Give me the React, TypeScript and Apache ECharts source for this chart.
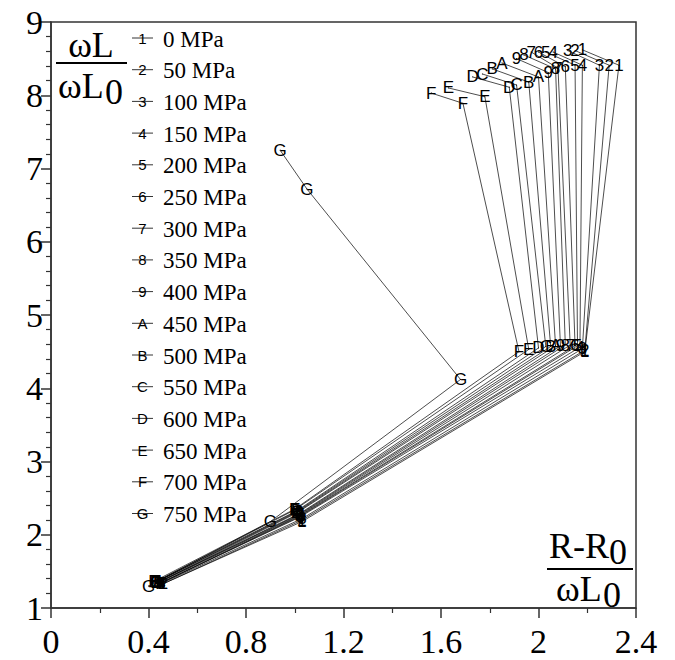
import React, { useEffect, useRef } from "react";
import * as echarts from "echarts";

const seriesNames = ["0 MPa", "50 MPa", "100 MPa", "150 MPa", "200 MPa", "250 MPa", "300 MPa", "350 MPa", "400 MPa", "450 MPa", "500 MPa", "550 MPa", "600 MPa", "650 MPa", "700 MPa", "750 MPa"];
const markChars = ["1", "2", "3", "4", "5", "6", "7", "8", "9", "A", "B", "C", "D", "E", "F", "G"];

// five measured points per pressure (x = (R-R0)/ωL0, y = ωL/ωL0)
const x1 = [0.46, 0.46, 0.45, 0.45, 0.45, 0.45, 0.44, 0.44, 0.44, 0.44, 0.43, 0.43, 0.43, 0.43, 0.42, 0.40];
const y1 = [1.33, 1.33, 1.33, 1.34, 1.34, 1.34, 1.34, 1.35, 1.35, 1.35, 1.35, 1.35, 1.36, 1.36, 1.36, 1.30];
const x2 = [1.03, 1.03, 1.03, 1.02, 1.02, 1.02, 1.02, 1.02, 1.02, 1.01, 1.01, 1.01, 1.01, 1.00, 1.00, 0.90];
const y2 = [2.18, 2.20, 2.22, 2.24, 2.25, 2.26, 2.27, 2.28, 2.29, 2.30, 2.31, 2.32, 2.33, 2.34, 2.35, 2.18];
const x3 = [2.19, 2.19, 2.18, 2.17, 2.16, 2.15, 2.13, 2.11, 2.09, 2.07, 2.05, 2.03, 2.00, 1.96, 1.92, 1.68];
const y3 = [4.50, 4.52, 4.54, 4.56, 4.58, 4.58, 4.59, 4.59, 4.58, 4.58, 4.57, 4.57, 4.55, 4.53, 4.50, 4.12];
const x4 = [2.33, 2.29, 2.25, 2.18, 2.15, 2.11, 2.08, 2.07, 2.04, 2.00, 1.96, 1.91, 1.88, 1.78, 1.69, 1.05];
const y4 = [8.41, 8.41, 8.41, 8.41, 8.41, 8.39, 8.37, 8.36, 8.31, 8.25, 8.18, 8.14, 8.11, 7.98, 7.89, 6.72];
const x5 = [2.18, 2.15, 2.12, 2.06, 2.03, 2.00, 1.97, 1.94, 1.91, 1.85, 1.81, 1.77, 1.73, 1.63, 1.56, 0.94];
const y5 = [8.62, 8.61, 8.61, 8.59, 8.59, 8.59, 8.59, 8.55, 8.50, 8.44, 8.36, 8.29, 8.25, 8.10, 8.03, 7.25];

const SERIF = "'Liberation Serif', 'Times New Roman', serif";
const SANS = "'Liberation Sans', Arial, sans-serif";

export default function App() {
  const ref = useRef<HTMLDivElement>(null);
  useEffect(() => {
    document.body.style.margin = "0";
    if (!ref.current) return;
    const chart = echarts.init(ref.current, null, { renderer: "svg" });

    const series = seriesNames.map((name, i) => ({
      name,
      type: "line",
      data: [
        [x1[i], y1[i]],
        [x2[i], y2[i]],
        [x3[i], y3[i]],
        [x4[i], y4[i]],
        [x5[i], y5[i]],
      ],
      symbol: "circle",
      symbolSize: 1,
      itemStyle: { color: "#000" },
      lineStyle: { color: "#000", width: 0.7 },
      label: {
        show: true,
        position: "inside",
        formatter: markChars[i],
        fontFamily: SANS,
        fontSize: 17,
        color: "#000",
      },
      emphasis: { disabled: true },
    }));

    const legendTop = 38;
    const legendStep = 31.7;
    const legendGraphics: any[] = [];
    seriesNames.forEach((name, i) => {
      const y = legendTop + i * legendStep;
      legendGraphics.push({
        type: "line",
        shape: { x1: 132, y1: y, x2: 153, y2: y },
        style: { stroke: "#000", lineWidth: 0.8 },
      });
      legendGraphics.push({
        type: "text",
        x: 142.5,
        y: y,
        style: { text: markChars[i], font: `15px ${SANS}`, fill: "#000", align: "center", verticalAlign: "middle" },
      });
      legendGraphics.push({
        type: "text",
        x: 163,
        y: y + 1,
        style: { text: name, font: `23px ${SERIF}`, fill: "#000", align: "left", verticalAlign: "middle" },
      });
    });

    const titleGraphics: any[] = [
      { type: "text", x: 91, y: 45, style: { text: "ωL", font: `36px ${SERIF}`, fill: "#000", align: "center", verticalAlign: "middle" } },
      { type: "line", shape: { x1: 56, y1: 63, x2: 127, y2: 63 }, style: { stroke: "#000", lineWidth: 2 } },
      { type: "text", x: 58, y: 86, style: { text: "ωL", font: `36px ${SERIF}`, fill: "#000", align: "left", verticalAlign: "middle" } },
      { type: "text", x: 105, y: 92, style: { text: "0", font: `36px ${SERIF}`, fill: "#000", align: "left", verticalAlign: "middle" } },
      { type: "text", x: 549, y: 546, style: { text: "R-R", font: `36px ${SERIF}`, fill: "#000", align: "left", verticalAlign: "middle" } },
      { type: "text", x: 609, y: 552, style: { text: "0", font: `36px ${SERIF}`, fill: "#000", align: "left", verticalAlign: "middle" } },
      { type: "line", shape: { x1: 547, y1: 569, x2: 633, y2: 569 }, style: { stroke: "#000", lineWidth: 2 } },
      { type: "text", x: 556, y: 589, style: { text: "ωL", font: `36px ${SERIF}`, fill: "#000", align: "left", verticalAlign: "middle" } },
      { type: "text", x: 603, y: 595, style: { text: "0", font: `36px ${SERIF}`, fill: "#000", align: "left", verticalAlign: "middle" } },
    ];

    const axisCommon = {
      axisLine: { show: true, lineStyle: { color: "#333", width: 1.5 } },
      axisTick: { show: true, inside: false, length: 10, lineStyle: { color: "#333", width: 1.5 } },
      minorTick: { show: true, length: 5, lineStyle: { color: "#333", width: 1.2 } },
      splitLine: { show: false },
      axisLabel: { color: "#000", fontFamily: SERIF, fontSize: 34, lineHeight: 28 },
    };

    chart.setOption({
      animation: false,
      backgroundColor: "#fff",
      grid: {
        left: 51,
        right: 39,
        top: 22,
        bottom: 52,
        show: true,
        borderColor: "#333",
        borderWidth: 1.5,
        containLabel: false,
        outerBoundsMode: "none",
      },
      xAxis: {
        type: "value",
        min: 0,
        max: 2.4,
        interval: 0.4,
        ...axisCommon,
        minorTick: { ...axisCommon.minorTick, splitNumber: 2 },
        axisLabel: { ...axisCommon.axisLabel, margin: 19 },
      },
      yAxis: {
        type: "value",
        min: 1,
        max: 9,
        interval: 1,
        ...axisCommon,
        minorTick: { ...axisCommon.minorTick, splitNumber: 5 },
        axisLabel: { ...axisCommon.axisLabel, margin: 8 },
      },
      series,
      graphic: [...legendGraphics, ...titleGraphics],
    });
    return () => chart.dispose();
  }, []);
  return <div ref={ref} style={{ width: 675, height: 660 }} />;
}
